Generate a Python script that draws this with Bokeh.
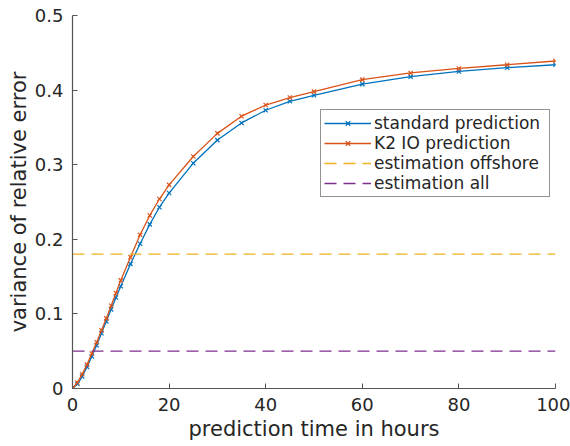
from bokeh.plotting import figure
from bokeh.models import FixedTicker, Legend, LegendItem, Range1d, ColumnDataSource
from bokeh.embed import file_html
from bokeh.resources import INLINE

hours = [0, 1, 2, 3, 4, 5, 6, 7, 8, 9, 10, 12, 14, 16, 18, 20, 25, 30, 35, 40, 45, 50, 60, 70, 80, 90, 100]
standard = [0.000, 0.006, 0.016, 0.029, 0.043, 0.058, 0.074, 0.090, 0.106, 0.122, 0.137, 0.167, 0.194,
            0.220, 0.243, 0.262, 0.302, 0.333, 0.356, 0.373, 0.385, 0.393, 0.408, 0.418, 0.425, 0.430, 0.434]
k2io = [0.000, 0.008, 0.019, 0.032, 0.047, 0.062, 0.078, 0.094, 0.111, 0.128, 0.145, 0.176, 0.206,
        0.232, 0.254, 0.273, 0.311, 0.342, 0.365, 0.380, 0.390, 0.398, 0.414, 0.423, 0.429, 0.434, 0.439]
est_offshore = 0.18
est_all = 0.05

x_ticks = [0, 20, 40, 60, 80, 100]
y_ticks = [0, 0.1, 0.2, 0.3, 0.4, 0.5]
y_tick_labels = ["0", "0.1", "0.2", "0.3", "0.4", "0.5"]

BLUE = "#0072BD"
ORANGE = "#D95319"
YELLOW = "#EDB120"
PURPLE = "#7E2F8E"
AX = "#262626"
FONT = "DejaVu Sans"

p = figure(width=570, height=446, output_backend="svg", toolbar_location=None,
           x_range=Range1d(0, 100), y_range=Range1d(0, 0.5),
           min_border_left=72, min_border_right=15, min_border_top=15, min_border_bottom=58)
p.frame_width = 483
p.frame_height = 373
p.outline_line_color = None
p.xgrid.visible = False
p.ygrid.visible = False
p.background_fill_color = "white"

src = ColumnDataSource(dict(x=hours, s=standard, k=k2io))
xr = [x_ticks[0], x_ticks[-1]]

l1 = p.line("x", "s", source=src, line_color=BLUE, line_width=1.3)
m1 = p.scatter("x", "s", source=src, marker="x", size=6, line_color=BLUE, line_width=1.2)
l2 = p.line("x", "k", source=src, line_color=ORANGE, line_width=1.3)
m2 = p.scatter("x", "k", source=src, marker="x", size=6, line_color=ORANGE, line_width=1.2)
l3 = p.line(xr, [est_offshore, est_offshore], line_color=YELLOW, line_width=1.3, line_dash="12 7")
l4 = p.line(xr, [est_all, est_all], line_color=PURPLE, line_width=1.3, line_dash="12 7")

for ax in (p.xaxis[0], p.yaxis[0]):
    ax.axis_line_color = "#555555"
    ax.axis_line_width = 1.2
    ax.major_tick_line_color = "#555555"
    ax.major_tick_in = 5
    ax.major_tick_out = 0
    ax.minor_tick_line_color = None
    ax.major_label_text_font = FONT
    ax.major_label_text_font_size = "18px"
    ax.major_label_text_color = AX
    ax.axis_label_text_font = FONT
    ax.axis_label_text_font_size = "21px"
    ax.axis_label_text_font_style = "normal"
    ax.axis_label_text_color = AX

p.xaxis[0].ticker = FixedTicker(ticks=x_ticks)
p.yaxis[0].ticker = FixedTicker(ticks=y_ticks)
p.yaxis[0].major_label_overrides = {t: l for t, l in zip(y_ticks, y_tick_labels)}
p.xaxis[0].axis_label = "prediction time in hours"
p.yaxis[0].axis_label = "variance of relative error"
p.xaxis[0].major_label_standoff = 9
p.yaxis[0].major_label_standoff = 9
p.xaxis[0].axis_label_standoff = 3
p.yaxis[0].axis_label_standoff = 1

legend = Legend(items=[
    LegendItem(label="standard prediction", renderers=[l1, m1]),
    LegendItem(label="K2 IO prediction", renderers=[l2, m2]),
    LegendItem(label="estimation offshore", renderers=[l3]),
    LegendItem(label="estimation all", renderers=[l4]),
], location=(248, 191))
legend.label_text_font = FONT
legend.label_text_font_size = "17px"
legend.label_text_color = AX
legend.border_line_color = AX
legend.border_line_width = 1
legend.background_fill_alpha = 1
legend.glyph_width = 47
legend.glyph_height = 16
legend.label_height = 16
legend.label_width = 172
legend.spacing = 0
legend.padding = 3
legend.margin = 0
legend.label_standoff = 3
p.add_layout(legend, "center")

open("out.html", "w").write(file_html(p, INLINE))
